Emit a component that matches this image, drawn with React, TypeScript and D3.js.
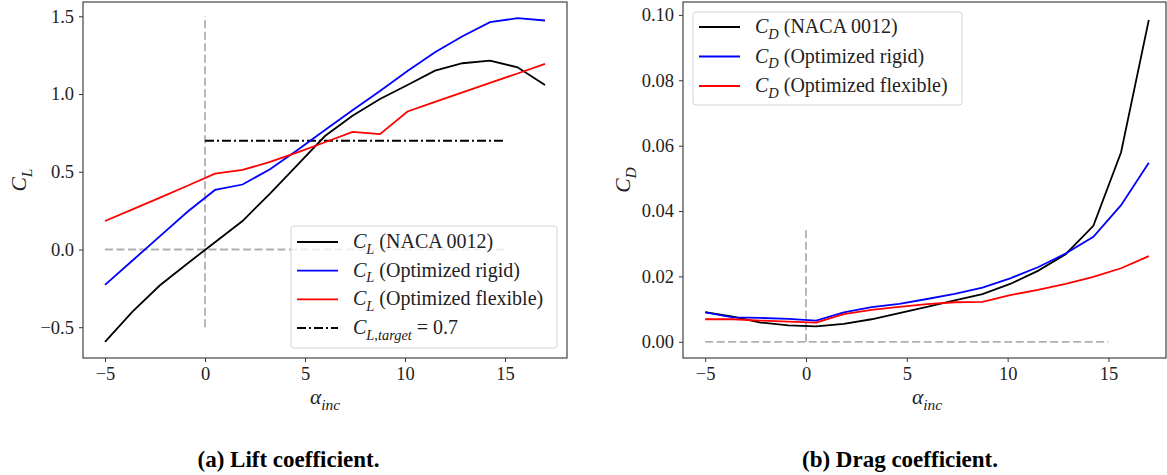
import React, { useRef, useEffect } from "react";
import { select, scaleLinear, line, axisBottom, axisLeft, format } from "d3";

// angle of incidence samples (deg)
const alphaInc = [-5, -3.625, -2.25, -0.875, 0.5, 1.875, 3.25, 4.625, 6, 7.375, 8.75, 10.125, 11.5, 12.875, 14.25, 15.625, 17];

// lift coefficient
const clNaca = [-0.594, -0.4, -0.23, -0.09, 0.047, 0.183, 0.36, 0.545, 0.73, 0.86, 0.968, 1.058, 1.15, 1.198, 1.215, 1.172, 1.058];
const clRigid = [-0.228, -0.071, 0.086, 0.243, 0.383, 0.418, 0.516, 0.64, 0.768, 0.895, 1.02, 1.148, 1.269, 1.372, 1.462, 1.488, 1.473];
const clFlex = [0.183, 0.258, 0.334, 0.41, 0.488, 0.512, 0.563, 0.625, 0.69, 0.757, 0.742, 0.888, 0.95, 1.011, 1.072, 1.132, 1.194];
const clTarget = 0.7;

// drag coefficient
const cdNaca = [0.0091, 0.0077, 0.0059, 0.005, 0.0047, 0.0055, 0.0069, 0.0088, 0.0107, 0.0127, 0.0146, 0.0177, 0.0217, 0.0268, 0.0355, 0.058, 0.0985];
const cdRigid = [0.009, 0.0075, 0.0073, 0.007, 0.0065, 0.009, 0.0106, 0.0116, 0.0131, 0.0147, 0.0166, 0.0194, 0.0228, 0.027, 0.0321, 0.0418, 0.0548];
const cdFlex = [0.0069, 0.0069, 0.0065, 0.0062, 0.0059, 0.0085, 0.0098, 0.0107, 0.0115, 0.0121, 0.0122, 0.0143, 0.0159, 0.0177, 0.0199, 0.0225, 0.0262];

const xTicks = [-5, 0, 5, 10, 15];
const clTicks = [-0.5, 0, 0.5, 1.0, 1.5];
const cdTicks = [0, 0.02, 0.04, 0.06, 0.08, 0.1];

const seriesNames = ["NACA 0012", "Optimized rigid", "Optimized flexible"];
const seriesColors = ["#000000", "#0000ff", "#ff0000"];

const captions = ["(a) Lift coefficient.", "(b) Drag coefficient."];

const FONT = "'Liberation Serif', 'Times New Roman', serif";
const FS = 18.5;
const LEG_FS = 20;

const writeMath = (text, parts, size) => {
  parts.forEach((p, i) => {
    const prevSub = i > 0 && parts[i - 1].sub;
    const ts = text
      .append("tspan")
      .text(p.t)
      .attr("font-style", p.it ? "italic" : "normal")
      .attr("font-size", p.sub ? size * 0.72 : size);
    let dy = 0;
    if (p.sub && !prevSub) dy = size * 0.28;
    if (!p.sub && prevSub) dy = -size * 0.28;
    if (dy) ts.attr("dy", dy);
  });
};

const drawPanel = (svg, cfg) => {
  const { box, xDomain, yDomain, yTicks, yFmt, series, yLabel, guides, legend } = cfg;
  const x = scaleLinear().domain(xDomain).range([box.x0, box.x1]);
  const y = scaleLinear().domain(yDomain).range([box.y1, box.y0]);
  const g = svg.append("g");

  // guide lines (gray dashed)
  guides.forEach((gd) => {
    g.append("line")
      .attr("x1", x(gd.x[0]))
      .attr("x2", x(gd.x[1]))
      .attr("y1", y(gd.y[0]))
      .attr("y2", y(gd.y[1]))
      .attr("stroke", "#b0b0b0")
      .attr("stroke-width", 1.8)
      .attr("stroke-dasharray", "8,3.5");
  });

  const lineGen = line()
    .x((d) => x(d[0]))
    .y((d) => y(d[1]));

  series.forEach((s) => {
    g.append("path")
      .attr("d", lineGen(s.x.map((v, i) => [v, s.y[i]])))
      .attr("fill", "none")
      .attr("stroke", s.color)
      .attr("stroke-width", s.width || 1.8)
      .attr("stroke-dasharray", s.dash || null);
  });

  // axes
  const xAxisG = g
    .append("g")
    .attr("transform", `translate(0,${box.y1})`)
    .call(axisBottom(x).tickValues(xTicks).tickSize(4).tickPadding(5).tickFormat(format("d")));
  const yAxisG = g
    .append("g")
    .attr("transform", `translate(${box.x0},0)`)
    .call(axisLeft(y).tickValues(yTicks).tickSize(4).tickPadding(5).tickFormat(format(yFmt)));
  [xAxisG, yAxisG].forEach((a) => {
    a.attr("font-family", FONT);
    a.select(".domain").remove();
    a.selectAll("text").attr("font-family", FONT).attr("font-size", FS).attr("fill", "#222");
    a.selectAll("line").attr("stroke", "#333").attr("stroke-width", 1);
  });

  g.append("rect")
    .attr("x", box.x0)
    .attr("y", box.y0)
    .attr("width", Math.min(box.x1, 1166) - box.x0)
    .attr("height", box.y1 - box.y0)
    .attr("fill", "none")
    .attr("stroke", "#444")
    .attr("stroke-width", 1.2);

  // axis labels
  const xl = g
    .append("text")
    .attr("x", (box.x0 + box.x1) / 2)
    .attr("y", 404)
    .attr("text-anchor", "middle")
    .attr("font-family", FONT)
    .attr("fill", "#222");
  writeMath(xl, [{ t: "α", it: true }, { t: "inc", it: true, sub: true }], FS + 3);

  const yl = g
    .append("text")
    .attr("transform", `translate(${yLabel.x},${(box.y0 + box.y1) / 2}) rotate(-90)`)
    .attr("text-anchor", "middle")
    .attr("font-family", FONT)
    .attr("fill", "#222");
  writeMath(yl, yLabel.parts, FS + 3);

  // legend
  const lg = g.append("g");
  lg.append("rect")
    .attr("x", legend.x)
    .attr("y", legend.y)
    .attr("width", legend.w)
    .attr("height", legend.h)
    .attr("rx", 3)
    .attr("fill", "#ffffff")
    .attr("fill-opacity", 0.8)
    .attr("stroke", "#d3d3d3")
    .attr("stroke-width", 1);
  legend.items.forEach((it, i) => {
    const cy = legend.y + legend.first + i * legend.step;
    lg.append("line")
      .attr("x1", legend.x + 6)
      .attr("x2", legend.x + 47)
      .attr("y1", cy)
      .attr("y2", cy)
      .attr("stroke", it.color)
      .attr("stroke-width", it.width || 1.8)
      .attr("stroke-dasharray", it.dash || null);
    const t = lg
      .append("text")
      .attr("x", legend.x + 62)
      .attr("y", cy + 6)
      .attr("font-family", FONT)
      .attr("fill", "#222")
      .style("white-space", "pre");
    writeMath(t, it.parts, LEG_FS);
  });
};

const App = () => {
  const ref = useRef(null);

  useEffect(() => {
    const svg = select(ref.current);
    svg.selectAll("*").remove();

    const dashDot = "9,3,2,3";

    drawPanel(svg, {
      box: { x0: 83, x1: 567, y0: 2, y1: 358 },
      xDomain: [-6.1, 18.1],
      yDomain: [-0.698, 1.592],
      yTicks: clTicks,
      yFmt: ".1f",
      yLabel: { x: 26, parts: [{ t: "C", it: true }, { t: "L", it: true, sub: true }] },
      guides: [
        { x: [0, 0], y: [-0.5, 1.5] },
        { x: [-5, 15], y: [0, 0] },
      ],
      series: [
        { x: [0, 15], y: [clTarget, clTarget], color: "#000", dash: dashDot, width: 2 },
        { x: alphaInc, y: clNaca, color: seriesColors[0] },
        { x: alphaInc, y: clRigid, color: seriesColors[1] },
        { x: alphaInc, y: clFlex, color: seriesColors[2] },
      ],
      legend: {
        x: 291,
        y: 226,
        w: 266,
        h: 122,
        first: 16,
        step: 28.7,
        items: [
          ...seriesNames.map((n, i) => ({
            color: seriesColors[i],
            parts: [{ t: "C", it: true }, { t: "L", it: true, sub: true }, { t: ` (${n})` }],
          })),
          {
            color: "#000",
            dash: dashDot,
            width: 2,
            parts: [
              { t: "C", it: true },
              { t: "L", it: true, sub: true },
              { t: ",", sub: true },
              { t: "target", it: true, sub: true },
              { t: ` = ${clTarget}` },
            ],
          },
        ],
      },
    });

    drawPanel(svg, {
      box: { x0: 683, x1: 1171, y0: 2, y1: 358 },
      xDomain: [-6.1, 18.1],
      yDomain: [-0.00495, 0.10395],
      yTicks: cdTicks,
      yFmt: ".2f",
      yLabel: { x: 630, parts: [{ t: "C", it: true }, { t: "D", it: true, sub: true }] },
      guides: [
        { x: [0, 0], y: [0, 0.035] },
        { x: [-5, 15], y: [0, 0] },
      ],
      series: [
        { x: alphaInc, y: cdNaca, color: seriesColors[0] },
        { x: alphaInc, y: cdRigid, color: seriesColors[1] },
        { x: alphaInc, y: cdFlex, color: seriesColors[2] },
      ],
      legend: {
        x: 693,
        y: 12,
        w: 269,
        h: 93,
        first: 15,
        step: 29.5,
        items: seriesNames.map((n, i) => ({
          color: seriesColors[i],
          parts: [{ t: "C", it: true }, { t: "D", it: true, sub: true }, { t: ` (${n})` }],
        })),
      },
    });

    // captions
    [288.5, 900].forEach((cx, i) => {
      svg
        .append("text")
        .attr("x", cx)
        .attr("y", 467)
        .attr("text-anchor", "middle")
        .attr("font-family", FONT)
        .attr("font-weight", "bold")
        .attr("font-size", 23)
        .attr("fill", "#000")
        .text(captions[i]);
    });
  }, []);

  return (
    <svg
      ref={ref}
      width={1167}
      height={475}
      style={{ position: "absolute", left: 0, top: 0, background: "#fff" }}
    ></svg>
  );
};

export default App;
